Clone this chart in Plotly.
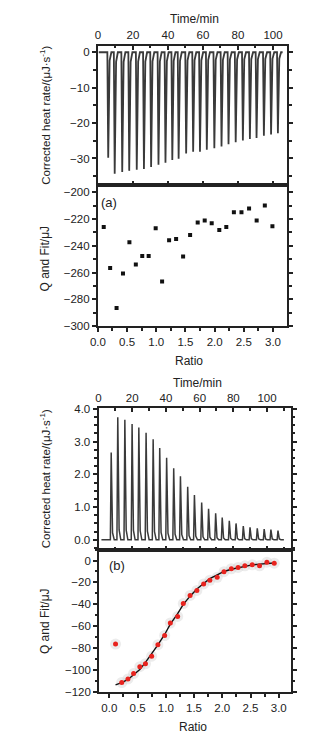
import plotly.graph_objects as go

# ---------------- data ----------------
# Panel (a): raw thermogram (injection times, peak minima)
a_inj_time = [5.9, 9.6, 13.9, 17.9, 22.2, 26.3, 30.4, 34.6, 38.6, 42.5, 46.1, 50.4, 54.4,
              58.3, 62.2, 66.5, 70.6, 74.6, 78.7, 82.8, 86.8, 90.6, 94.8, 98.9, 102.8]
a_peak = [-29.8, -34.3, -33.8, -33.5, -33.2, -33.0, -32.4, -31.8, -31.2, -30.4, -30.1, -28.6, -28.1,
          -28.1, -27.5, -27.1, -26.6, -26.0, -25.4, -24.9, -24.5, -24.2, -23.6, -23.2, -22.9]
a_time_span = [0.5, 105.5]

# Panel (a): integrated heats
a_ratio = [0.10, 0.21, 0.32, 0.43, 0.54, 0.65, 0.76, 0.87, 0.99, 1.10, 1.22, 1.34, 1.46,
           1.58, 1.71, 1.83, 1.95, 2.08, 2.20, 2.33, 2.46, 2.59, 2.72, 2.86, 2.99]
a_q = [-226.1, -256.6, -286.4, -260.6, -237.4, -254.0, -247.6, -247.6, -226.9, -266.7, -235.9, -235.0, -248.0,
       -232.0, -222.7, -221.2, -223.2, -228.3, -226.1, -215.1, -215.1, -212.2, -221.2, -210.0, -225.4]

# Panel (b): raw thermogram (injection times, peak maxima)
b_inj_time = [7.5, 11.4, 15.6, 19.9, 23.9, 28.2, 32.4, 36.3, 40.4, 44.6, 48.6, 52.9, 56.9,
              61.2, 65.3, 69.5, 73.4, 77.6, 81.6, 85.9, 89.9, 94.2, 98.3, 102.3, 106.5]
b_peak = [2.67, 3.75, 3.67, 3.54, 3.43, 3.27, 3.07, 2.81, 2.51, 2.19, 1.94, 1.62, 1.37,
          1.14, 0.95, 0.81, 0.68, 0.58, 0.50, 0.42, 0.38, 0.35, 0.33, 0.31, 0.28]
b_time_span = [1.7, 110.0]

# Panel (b): integrated heats and fit
b_ratio = [0.11, 0.22, 0.33, 0.43, 0.54, 0.64, 0.75, 0.86, 0.98, 1.08, 1.21, 1.31, 1.43,
           1.55, 1.67, 1.78, 1.91, 2.03, 2.16, 2.28, 2.40, 2.53, 2.66, 2.79, 2.92]
b_q = [-76.2, -111.3, -108.0, -103.2, -96.9, -94.2, -87.3, -76.8, -68.4, -57.0, -51.0, -39.3, -31.8,
       -27.3, -21.3, -18.0, -15.3, -10.2, -7.5, -6.3, -4.8, -3.9, -4.8, -1.5, -2.4]
b_fit = [-113.5, -111.5, -108.5, -104.5, -99.5, -93.0, -85.5, -77.0, -67.5, -58.0, -48.5, -40.0, -32.5,
         -26.0, -21.0, -16.5, -13.0, -10.0, -8.0, -6.5, -5.0, -4.0, -3.3, -2.7, -2.2]

time_ticks = [0, 20, 40, 60, 80, 100]
ratio_ticks = [0.0, 0.5, 1.0, 1.5, 2.0, 2.5, 3.0]


def thermogram(times, peaks, span):
    xs, ys = [span[0]], [0.0]
    for t, p in zip(times, peaks):
        xs += [t - 0.5, t, t + 0.8, t + 1.8]
        ys += [0.0, p, 0.08 * p, 0.0]
    xs.append(span[1])
    ys.append(0.0)
    return xs, ys


# The page body has an 8px margin, so the figure is drawn 8px in from the window edge.
OFF = 8
W, H = 326 - OFF, 746 - OFF
def px(x):
    return (x - OFF) / W
def py(y):
    return 1 - (y - OFF) / H

FONT = "Liberation Sans, Arial, sans-serif"
INK = "#222222"

fig = go.Figure()

ax, ay = thermogram(a_inj_time, a_peak, a_time_span)
fig.add_trace(go.Scatter(x=ax, y=ay, mode="lines", line=dict(color="#3a3a3a", width=1.8),
                         xaxis="x", yaxis="y", showlegend=False))
fig.add_trace(go.Scatter(x=a_ratio, y=a_q, mode="markers",
                         marker=dict(symbol="square", size=4, color="#111111"),
                         xaxis="x2", yaxis="y2", showlegend=False))

bx, by = thermogram(b_inj_time, b_peak, b_time_span)
fig.add_trace(go.Scatter(x=bx, y=by, mode="lines", line=dict(color="#3a3a3a", width=1.5),
                         xaxis="x3", yaxis="y3", showlegend=False))
fig.add_trace(go.Scatter(x=b_ratio, y=b_q, mode="markers",
                         marker=dict(size=11, color="rgba(200,200,200,0.35)"),
                         xaxis="x4", yaxis="y4", showlegend=False))
fig.add_trace(go.Scatter(x=b_ratio, y=b_fit, mode="lines", line=dict(color="#111111", width=1.4),
                         xaxis="x4", yaxis="y4", showlegend=False))
fig.add_trace(go.Scatter(x=b_ratio, y=b_q, mode="markers",
                         marker=dict(size=5, color="#e8231e"),
                         xaxis="x4", yaxis="y4", showlegend=False))

tickfont = dict(family=FONT, size=11.5, color=INK)
common = dict(showline=True, linecolor=INK, linewidth=2, showgrid=False, zeroline=False,
              tickfont=tickfont, tickcolor=INK, tickwidth=1.5)

# domains in pixels
a_x = [px(92), px(286)]
b_x_top = [px(92.7), px(289.7)]
b_x_bot = [px(93.3), px(289.7)]

fig.update_layout(
    width=W, height=H, margin=dict(l=0, r=0, t=0, b=0),
    paper_bgcolor="white", plot_bgcolor="white",
    xaxis=dict(domain=a_x, anchor="y", side="top", range=[0, 108], tickvals=time_ticks,
               ticks="inside", ticklen=4, mirror="ticks",
               minor=dict(dtick=10, ticks="inside", ticklen=2.5, tickcolor=INK), **common),
    yaxis=dict(domain=[py(183), py(41)], anchor="x", range=[-37.6, 1.9], dtick=10,
               ticks="outside", ticklen=4, mirror="ticks",
               minor=dict(dtick=5, ticks="outside", ticklen=2.5, tickcolor=INK), **common),
    xaxis2=dict(domain=a_x, anchor="y2", range=[0, 3.24], tickvals=ratio_ticks, tickformat=".1f",
                ticks="outside", ticklen=4, mirror=True,
                minor=dict(dtick=0.25, ticks="outside", ticklen=2.5, tickcolor=INK), **common),
    yaxis2=dict(domain=[py(326), py(183)], anchor="x2", range=[-300, -195], dtick=20,
                ticks="outside", ticklen=4, mirror="ticks",
                minor=dict(dtick=10, ticks="outside", ticklen=2.5, tickcolor=INK), **common),
    xaxis3=dict(domain=b_x_top, anchor="y3", side="top", range=[0, 114], tickvals=time_ticks,
                ticks="inside", ticklen=4, mirror="ticks",
                minor=dict(dtick=10, ticks="inside", ticklen=2.5, tickcolor=INK), **common),
    yaxis3=dict(domain=[py(552.7), py(409.3)], anchor="x3", range=[-0.3, 4.02], dtick=1,
                tickformat=".1f", ticks="outside", ticklen=4, mirror="ticks",
                minor=dict(dtick=0.25, ticks="outside", ticklen=2.5, tickcolor=INK), **common),
    xaxis4=dict(domain=b_x_bot, anchor="y4", range=[-0.18, 3.21], tickvals=ratio_ticks, tickformat=".1f",
                ticks="outside", ticklen=4, mirror=True,
                minor=dict(dtick=0.25, ticks="outside", ticklen=2.5, tickcolor=INK), **common),
    yaxis4=dict(domain=[py(697.3), py(552.7)], anchor="x4", range=[-120, 10], dtick=20,
                ticks="outside", ticklen=4, mirror="ticks",
                minor=dict(dtick=10, ticks="outside", ticklen=2.5, tickcolor=INK), **common),
)

ann = []
def add(text, x, y, angle=0, size=12):
    ann.append(dict(text=text, x=px(x), y=py(y), xref="paper", yref="paper", showarrow=False,
                    textangle=angle, font=dict(family=FONT, size=size, color=INK),
                    xanchor="center", yanchor="middle"))

add("Time/min", 191, 14)
add("Corrected heat rate/(μJ·s<sup>-1</sup>)", 38, 112, -90, 11.5)
add("Q and Fit/μJ", 38, 257, -90, 12)
add("Ratio", 185, 361)
add("(a)", 103, 200, 0, 13)

add("Time/min", 194, 384)
add("Corrected heat rate/(μJ·s<sup>-1</sup>)", 38, 481, -90, 11.5)
add("Q and Fit/μJ", 38, 625, -90, 12)
add("Ratio", 190, 733)
add("(b)", 112, 569, 0, 13)

fig.update_layout(annotations=ann)
fig.write_html("out.html")
